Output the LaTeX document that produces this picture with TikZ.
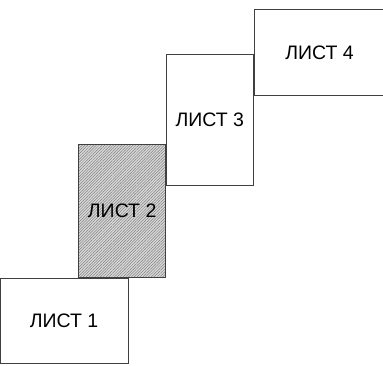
\documentclass[tikz,border=0pt]{standalone}
\usepackage{fontspec}
\setmainfont{Liberation Sans}
\usepackage{tikz}
\usetikzlibrary{patterns.meta}

\begin{document}
\begin{tikzpicture}[x=1pt,y=1pt,
		sheet/.style={rectangle,draw=black!75,line width=0.8pt,inner sep=0pt,
			font=\fontsize{19.5}{22}\selectfont},
		hatched/.style={preaction={fill=gray!30},
			pattern={Lines[angle=45,distance=2pt,line width=0.5pt]},pattern color=black!50}]
		\useasboundingbox (0,0) rectangle (383,366);
		\path (64,45.5) node(list1) [sheet,minimum width=128pt,minimum height=85pt] {ЛИСТ 1};
		\path ([xshift=-50pt]list1.north east) node(list2) [sheet,hatched,anchor=south west,minimum width=87pt,minimum height=133pt] {ЛИСТ 2};
		\path ([yshift=-42pt]list2.north east) node(list3) [sheet,anchor=south west,minimum width=87pt,minimum height=131pt] {ЛИСТ 3};
		\path ([yshift=-42pt]list3.north east) node(list4) [sheet,anchor=south west,minimum width=131pt,minimum height=86pt] {ЛИСТ 4};
	\end{tikzpicture}
\end{document}
